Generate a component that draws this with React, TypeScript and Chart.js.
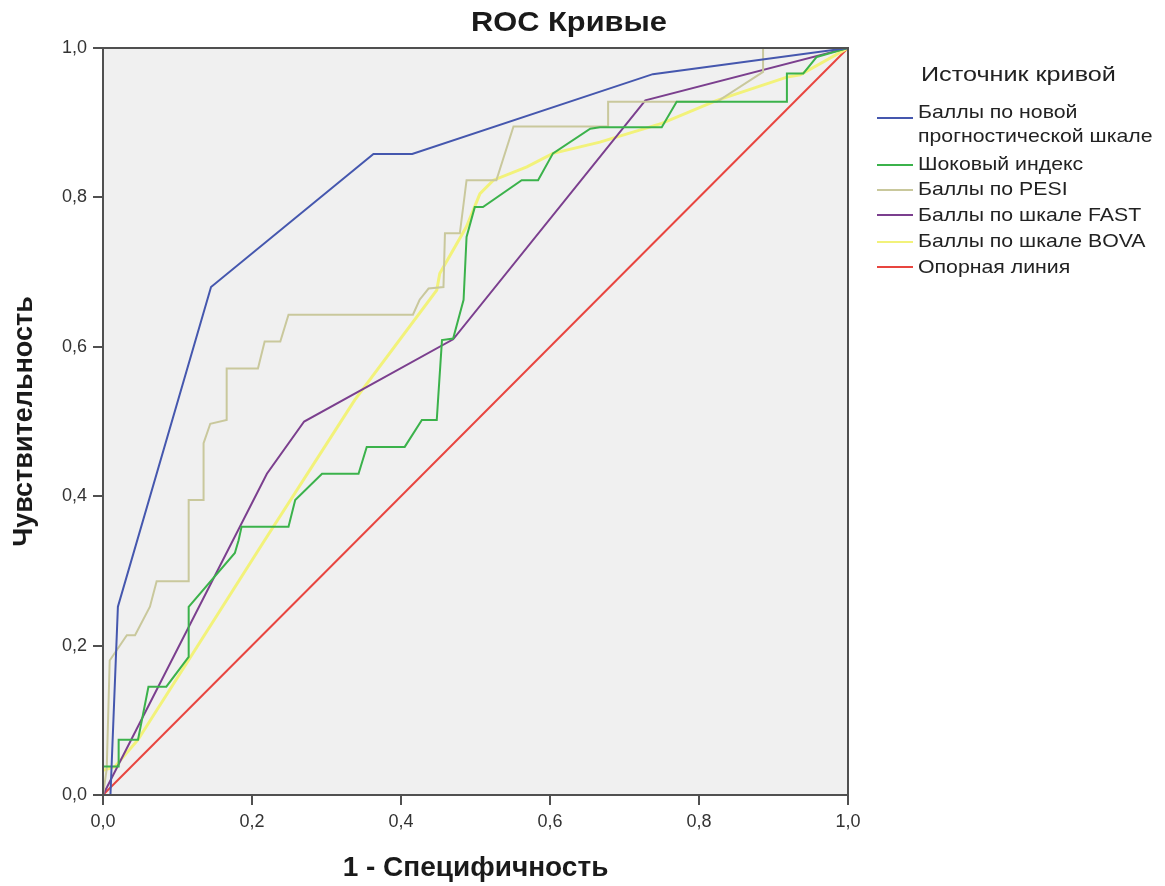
import { useEffect, useRef } from 'react';
import { Chart, registerables } from 'chart.js';

Chart.register(...registerables);

const chartTitle = 'ROC Кривые';
const xTitle = '1 - Специфичность';
const yTitle = 'Чувствительность';
const legendTitle = 'Источник кривой';

const seriesLabels = [
  ['Баллы по новой', 'прогностической шкале'],
  ['Шоковый индекс'],
  ['Баллы по PESI'],
  ['Баллы по шкале FAST'],
  ['Баллы по шкале BOVA'],
  ['Опорная линия'],
];
const seriesColors = ['#4557AE', '#3BB24B', '#C9C89C', '#7B3F8E', '#F2F27A', '#E8453F'];
const seriesWidths = [2, 2, 2, 2, 3, 2];

const tickValues = [0, 0.2, 0.4, 0.6, 0.8, 1.0];

const newScaleX = [0, 0.01, 0.02, 0.145, 0.363, 0.415, 0.738, 1];
const newScaleY = [0, 0.0, 0.252, 0.68, 0.858, 0.858, 0.965, 1];

const shockX = [0, 0, 0.021, 0.021, 0.047, 0.061, 0.085, 0.115, 0.115, 0.177, 0.182, 0.186, 0.249, 0.258, 0.294, 0.343, 0.354, 0.405, 0.428, 0.448, 0.45, 0.455, 0.47, 0.484, 0.488, 0.499, 0.51, 0.562, 0.584, 0.604, 0.654, 0.667, 0.75, 0.77, 0.918, 0.918, 0.94, 0.958, 1];
const shockY = [0, 0.038, 0.038, 0.074, 0.074, 0.145, 0.145, 0.185, 0.252, 0.324, 0.341, 0.359, 0.359, 0.395, 0.43, 0.43, 0.466, 0.466, 0.502, 0.502, 0.533, 0.609, 0.611, 0.663, 0.747, 0.787, 0.787, 0.823, 0.823, 0.859, 0.892, 0.894, 0.894, 0.928, 0.928, 0.966, 0.966, 0.988, 1];

const pesiX = [0, 0.005, 0.009, 0.032, 0.043, 0.063, 0.072, 0.115, 0.115, 0.135, 0.135, 0.144, 0.166, 0.166, 0.208, 0.217, 0.238, 0.249, 0.416, 0.425, 0.437, 0.457, 0.459, 0.479, 0.488, 0.528, 0.551, 0.678, 0.678, 0.824, 0.886, 0.886, 1];
const pesiY = [0, 0.035, 0.18, 0.214, 0.214, 0.252, 0.286, 0.286, 0.395, 0.395, 0.471, 0.497, 0.502, 0.571, 0.571, 0.607, 0.607, 0.643, 0.643, 0.663, 0.678, 0.68, 0.752, 0.752, 0.823, 0.823, 0.895, 0.895, 0.928, 0.928, 0.968, 1, 1];

const fastX = [0, 0.22, 0.27, 0.47, 0.728, 1];
const fastY = [0, 0.43, 0.5, 0.61, 0.93, 1];

const bovaX = [0, 0.016, 0.047, 0.112, 0.217, 0.338, 0.448, 0.452, 0.488, 0.506, 0.524, 0.569, 0.604, 0.667, 0.75, 0.824, 0.918, 0.936, 1];
const bovaY = [0.033, 0.038, 0.074, 0.176, 0.341, 0.529, 0.676, 0.698, 0.761, 0.805, 0.823, 0.841, 0.859, 0.874, 0.899, 0.93, 0.961, 0.964, 1];

const refX = [0, 1];
const refY = [0, 1];

const seriesX = [newScaleX, shockX, pesiX, fastX, bovaX, refX];
const seriesY = [newScaleY, shockY, pesiY, fastY, bovaY, refY];

const FONT = '"Liberation Sans", Arial, sans-serif';

const fmt = (v: number) => v.toFixed(1).replace('.', ',');

function drawScaledText(ctx: CanvasRenderingContext2D, text: string, x: number, y: number, sx: number, align: 'left' | 'center') {
  ctx.save();
  ctx.translate(x, y);
  ctx.scale(sx, 1);
  ctx.textAlign = align;
  ctx.fillText(text, 0, 0);
  ctx.restore();
}

const decorPlugin = {
  id: 'decor',
  beforeDraw(chart: any) {
    const { ctx, chartArea } = chart;
    ctx.save();
    ctx.fillStyle = '#ffffff';
    ctx.fillRect(0, 0, chart.width, chart.height);
    ctx.fillStyle = '#F0F0F0';
    ctx.fillRect(chartArea.left, chartArea.top, chartArea.right - chartArea.left, chartArea.bottom - chartArea.top);
    ctx.restore();
  },
  afterDraw(chart: any) {
    const { ctx, chartArea } = chart;
    ctx.save();
    ctx.strokeStyle = '#505050';
    ctx.lineWidth = 2;
    ctx.strokeRect(chartArea.left, chartArea.top, chartArea.right - chartArea.left, chartArea.bottom - chartArea.top);

    ctx.fillStyle = '#1a1a1a';
    ctx.textBaseline = 'middle';
    ctx.font = `bold 28px ${FONT}`;
    drawScaledText(ctx, chartTitle, 569, 23, 1.1, 'center');

    ctx.fillStyle = '#222222';
    ctx.font = `21px ${FONT}`;
    drawScaledText(ctx, legendTitle, 921, 75, 1.2, 'left');

    ctx.font = `19px ${FONT}`;
    const textY = [113, 165, 190, 216, 242, 268];
    const lineY = [118, 165, 190, 215, 242, 267];
    seriesLabels.forEach((lines, i) => {
      ctx.strokeStyle = seriesColors[i];
      ctx.lineWidth = 2;
      ctx.beginPath();
      ctx.moveTo(877, lineY[i]);
      ctx.lineTo(913, lineY[i]);
      ctx.stroke();
      lines.forEach((t, j) => {
        drawScaledText(ctx, t, 918, textY[i] + j * 24, 1.12, 'left');
      });
    });
    ctx.restore();
  },
};

export default function App() {
  const ref = useRef<HTMLCanvasElement>(null);
  useEffect(() => {
    document.body.style.margin = '0';
    const datasets = seriesX.map((xs, i) => ({
      label: seriesLabels[i].join(' '),
      data: xs.map((x, k) => ({ x, y: seriesY[i][k] })),
      borderColor: seriesColors[i],
      backgroundColor: seriesColors[i],
      borderWidth: seriesWidths[i],
      pointRadius: 0,
      showLine: true,
      tension: 0,
      fill: false,
    }));
    const chart = new Chart(ref.current!, {
      type: 'scatter',
      data: { datasets },
      options: {
        animation: false,
        responsive: false,
        layout: { padding: { top: 48, right: 317, left: 0, bottom: 0 } },
        plugins: { legend: { display: false }, title: { display: false }, tooltip: { enabled: false } },
        scales: {
          x: {
            type: 'linear',
            min: 0,
            max: 1,
            afterBuildTicks: (s: any) => { s.ticks = tickValues.map((v) => ({ value: v })); },
            afterFit: (s: any) => { s.height = 91; },
            border: { display: true, color: '#505050', width: 2 },
            grid: { drawOnChartArea: false, drawTicks: true, tickLength: 10, color: '#505050', lineWidth: 2 },
            ticks: { color: '#333333', font: { family: FONT, size: 18 }, padding: 6, callback: (v: any) => fmt(Number(v)), maxRotation: 0 },
            title: { display: true, text: xTitle, color: '#1a1a1a', font: { family: FONT, size: 28, weight: 'bold' }, padding: { top: 0, bottom: 1 } },
          },
          y: {
            type: 'linear',
            min: 0,
            max: 1,
            afterBuildTicks: (s: any) => { s.ticks = tickValues.map((v) => ({ value: v })); },
            afterFit: (s: any) => { s.width = 103; },
            border: { display: true, color: '#505050', width: 2 },
            grid: { drawOnChartArea: false, drawTicks: true, tickLength: 10, color: '#505050', lineWidth: 2 },
            ticks: { color: '#333333', font: { family: FONT, size: 18 }, padding: 6, callback: (v: any) => fmt(Number(v)) },
            title: { display: true, text: yTitle, color: '#1a1a1a', font: { family: FONT, size: 27, weight: 'bold' }, padding: { top: 8, bottom: 0 } },
          },
        },
      },
      plugins: [decorPlugin],
    });
    return () => chart.destroy();
  }, []);
  return (
    <div style={{ width: 1165, height: 886 }}>
      <canvas ref={ref} width={1165} height={886} />
    </div>
  );
}
